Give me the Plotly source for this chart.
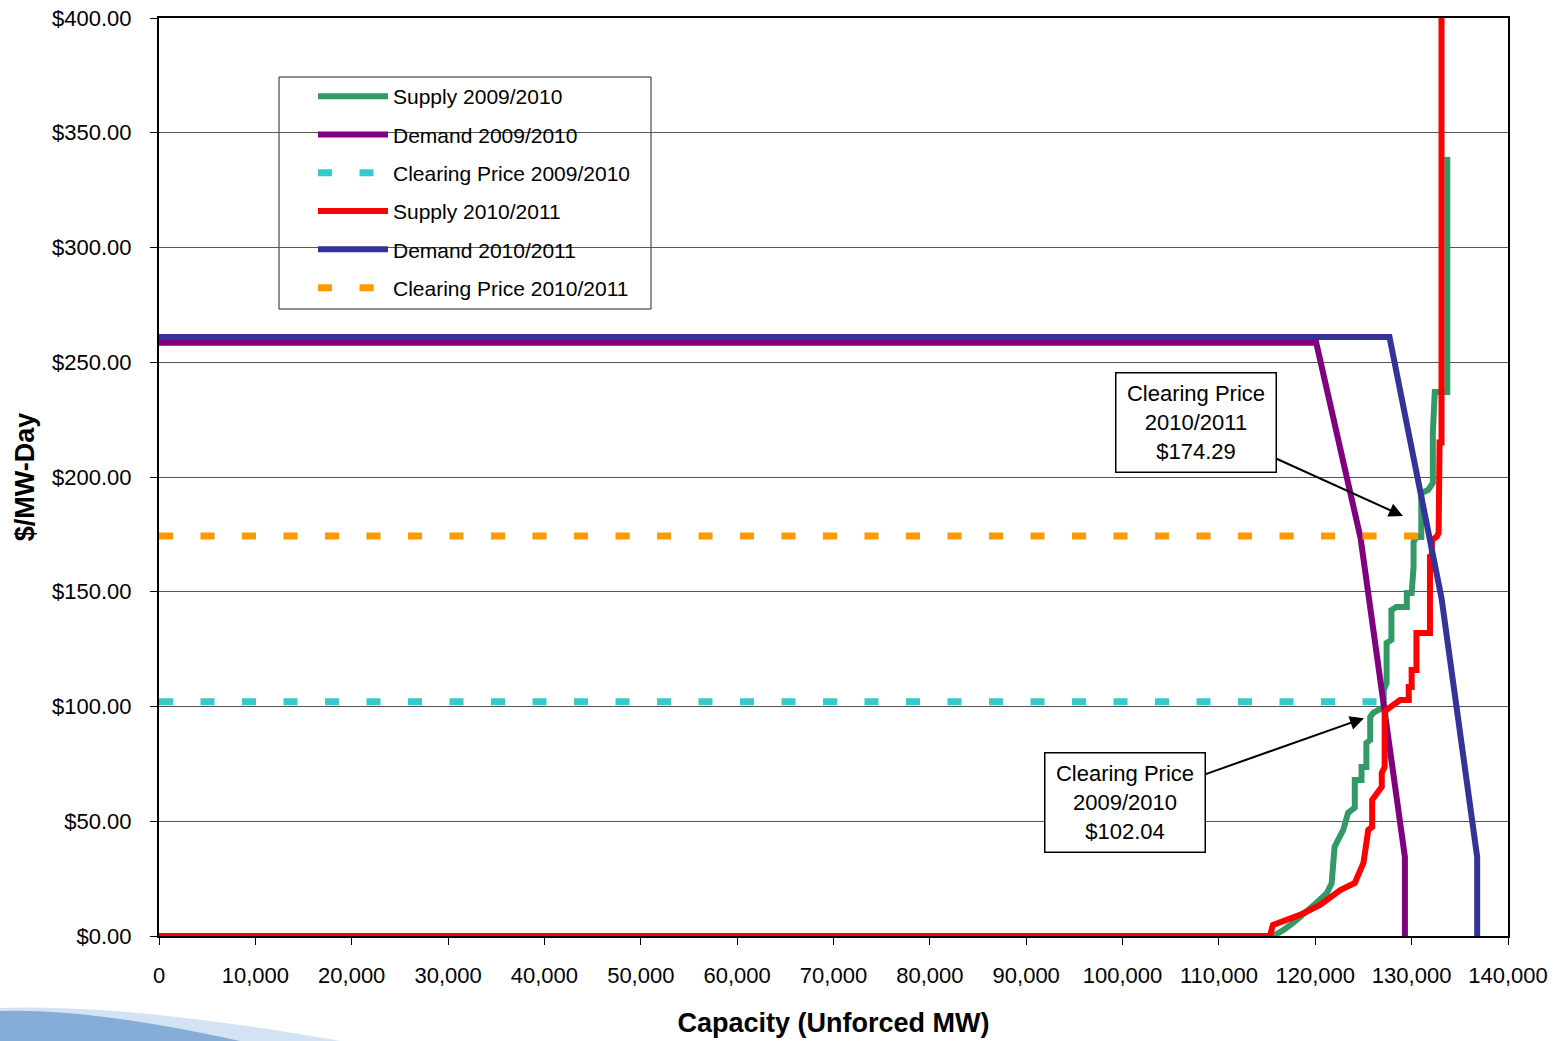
import plotly.graph_objects as go

# ---------------- data ----------------
supply_0910_mw = [0, 115600, 116700, 117700, 120100, 121200, 121700, 122000, 122900, 123400,
                  124100, 124100, 124800, 124800, 125300, 125300, 125700, 125700, 126000, 127100,
                  127100, 127400, 127400, 127900, 127900, 128400, 129500, 129500, 130000, 130200,
                  130200, 130500, 131000, 131000, 131700, 132200, 132200, 132400, 133700, 133700]
supply_0910_price = [0, 0, 2.6, 5.7, 14.4, 18.7, 23, 38.8, 46.2, 53.6,
                     56, 68, 68, 73.6, 73.6, 84.1, 85.4, 95.4, 97.2, 99.8,
                     107.2, 110.2, 127.7, 129, 142, 143.4, 143.4, 149.5, 149.5, 160.8,
                     171.7, 173.9, 173.9, 193, 194.3, 197.4, 219.2, 237, 237, 339.4]

demand_0910_mw = [0, 120100, 124700, 129300, 129300]
demand_0910_price = [258.5, 258.5, 173.4, 34.4, 0]

supply_1011_mw = [0, 115300, 115600, 118400, 120500, 122600, 124100, 125000, 125500, 125900,
                  125900, 126900, 126900, 127200, 127200, 127400, 128800, 129700, 129700, 130000,
                  130000, 130500, 130500, 131900, 131900, 132100, 132100, 132600, 132800, 132800,
                  132900, 132900, 133100, 133100]
supply_1011_price = [0, 0, 4.8, 9.2, 13.5, 20, 23.1, 31.8, 46.2, 47.5,
                     59.3, 65, 71, 73.6, 97.2, 98.5, 102.8, 102.8, 108.5, 108.5,
                     115.9, 115.9, 132, 132, 165, 165, 172.5, 174, 175.6, 198.7,
                     198.7, 215, 215, 450]

demand_1011_mw = [0, 127700, 133100, 136800, 136800]
demand_1011_price = [261, 261, 147.3, 34.4, 0]

clearing_0910_mw = [0, 127200]
clearing_0910_price = [102.04, 102.04]
clearing_1011_mw = [0, 132200]
clearing_1011_price = [174.29, 174.29]

x_tickvals = [0, 10000, 20000, 30000, 40000, 50000, 60000, 70000,
              80000, 90000, 100000, 110000, 120000, 130000, 140000]
x_ticktext = ["0", "10,000", "20,000", "30,000", "40,000", "50,000", "60,000", "70,000",
              "80,000", "90,000", "100,000", "110,000", "120,000", "130,000", "140,000"]
y_tickvals = [0, 50, 100, 150, 200, 250, 300, 350, 400]
y_ticktext = ["$0.00", "$50.00", "$100.00", "$150.00", "$200.00",
              "$250.00", "$300.00", "$350.00", "$400.00"]

FONT = "Liberation Sans, Arial, sans-serif"

# ---------------- figure ----------------
fig = go.Figure()

traces = [
    ("Supply 2009/2010", supply_0910_mw, supply_0910_price, "#339966", 6, "solid"),
    ("Demand 2009/2010", demand_0910_mw, demand_0910_price, "#800080", 6, "solid"),
    ("Clearing Price 2009/2010", clearing_0910_mw, clearing_0910_price, "#33CCCC", 7, "14px,27.5px"),
    ("Supply 2010/2011", supply_1011_mw, supply_1011_price, "#FF0000", 6, "solid"),
    ("Demand 2010/2011", demand_1011_mw, demand_1011_price, "#333399", 6, "solid"),
    ("Clearing Price 2010/2011", clearing_1011_mw, clearing_1011_price, "#FF9900", 7, "14px,27.5px"),
]
for i, (name, xs, ys, col, w, dash) in enumerate(traces):
    fig.add_trace(go.Scatter(
        x=xs, y=ys, mode="lines", name=name, legendgroup=f"g{i}",
        line=dict(color=col, width=w, dash=dash),
    ))

# page-pixel -> paper helpers (body margin removed below)
W, H = 1554, 1041
L, R, T, B = 159, 1508, 18, 936          # plot area in page pixels
def px(x):
    return (x - L) / (R - L)
def py(y):
    return (B - y) / (B - T)

shapes = [
    # legend frame
    dict(type="rect", xref="paper", yref="paper",
         x0=px(279), x1=px(651), y0=py(309), y1=py(77),
         line=dict(color="#222222", width=1), fillcolor="white", layer="below"),
    # decorative swoosh bottom-left
    dict(type="path", xref="paper", yref="paper",
         path=f"M {px(0)},{py(1008)} Q {px(130)},{py(1004)} {px(340)},{py(1041)} L {px(0)},{py(1041)} Z",
         fillcolor="rgba(200,220,240,0.8)", line=dict(width=0), layer="below"),
    dict(type="path", xref="paper", yref="paper",
         path=f"M {px(0)},{py(1011)} Q {px(90)},{py(1008)} {px(240)},{py(1041)} L {px(0)},{py(1041)} Z",
         fillcolor="rgba(120,163,210,0.85)", line=dict(width=0), layer="below"),
]

ann_font = dict(family=FONT, size=22, color="black")
annotations = [
    dict(x=129100, y=183, ax=107600, ay=223.9, xref="x", yref="y", axref="x", ayref="y",
         text="Clearing Price<br>2010/2011<br>$174.29", showarrow=True,
         arrowhead=2, arrowsize=1.4, arrowwidth=2, arrowcolor="black",
         font=ann_font, bgcolor="white", bordercolor="black", borderwidth=1.5, borderpad=3,
         width=153, height=92),
    dict(x=125050, y=94.9, ax=100300, ay=58.2, xref="x", yref="y", axref="x", ayref="y",
         text="Clearing Price<br>2009/2010<br>$102.04", showarrow=True,
         arrowhead=2, arrowsize=1.4, arrowwidth=2, arrowcolor="black",
         font=ann_font, bgcolor="white", bordercolor="black", borderwidth=1.5, borderpad=3,
         width=153, height=92),
]

fig.update_layout(
    width=W, height=H,
    margin=dict(l=L, r=W - R, t=T, b=H - B, autoexpand=False),
    paper_bgcolor="white", plot_bgcolor="white",
    font=dict(family=FONT, size=22, color="black"),
    showlegend=True,
    legend=dict(
        x=px(313), y=py(76), xanchor="left", yanchor="top",
        bgcolor="rgba(0,0,0,0)", borderwidth=0,
        itemwidth=70, traceorder="grouped", tracegroupgap=8,
        font=dict(family=FONT, size=21, color="black"),
    ),
    xaxis=dict(
        range=[0, 140000], tickvals=x_tickvals, ticktext=x_ticktext, tickangle=0,
        ticks="outside", ticklen=7, tickcolor="black", tickwidth=1,
        showline=True, linecolor="black", linewidth=2, mirror=True,
        showgrid=False, zeroline=False, automargin=False, ticklabeloverflow="allow",
        tickfont=dict(family=FONT, size=22, color="black"),
        ticklabelstandoff=12,
        title=dict(text="Capacity (Unforced MW)", standoff=26,
                   font=dict(family=FONT, size=27, color="black", weight="bold")),
    ),
    yaxis=dict(
        range=[0, 400], tickvals=y_tickvals, ticktext=y_ticktext,
        ticks="outside", ticklen=7, tickcolor="black", tickwidth=1,
        showline=True, linecolor="black", linewidth=2, mirror=True,
        showgrid=True, gridcolor="#555555", gridwidth=1, zeroline=False, automargin=False,
        ticklabeloverflow="allow",
        tickfont=dict(family=FONT, size=22, color="black"),
        ticklabelstandoff=14,
        title=dict(text="$/MW-Day", standoff=10,
                   font=dict(family=FONT, size=27, color="black", weight="bold")),
    ),
    shapes=shapes,
    annotations=annotations,
)

fig.write_html(
    "out.html",
    config={"displayModeBar": False},
    post_script="document.body.style.margin='0px';document.body.style.overflow='hidden';",
)
